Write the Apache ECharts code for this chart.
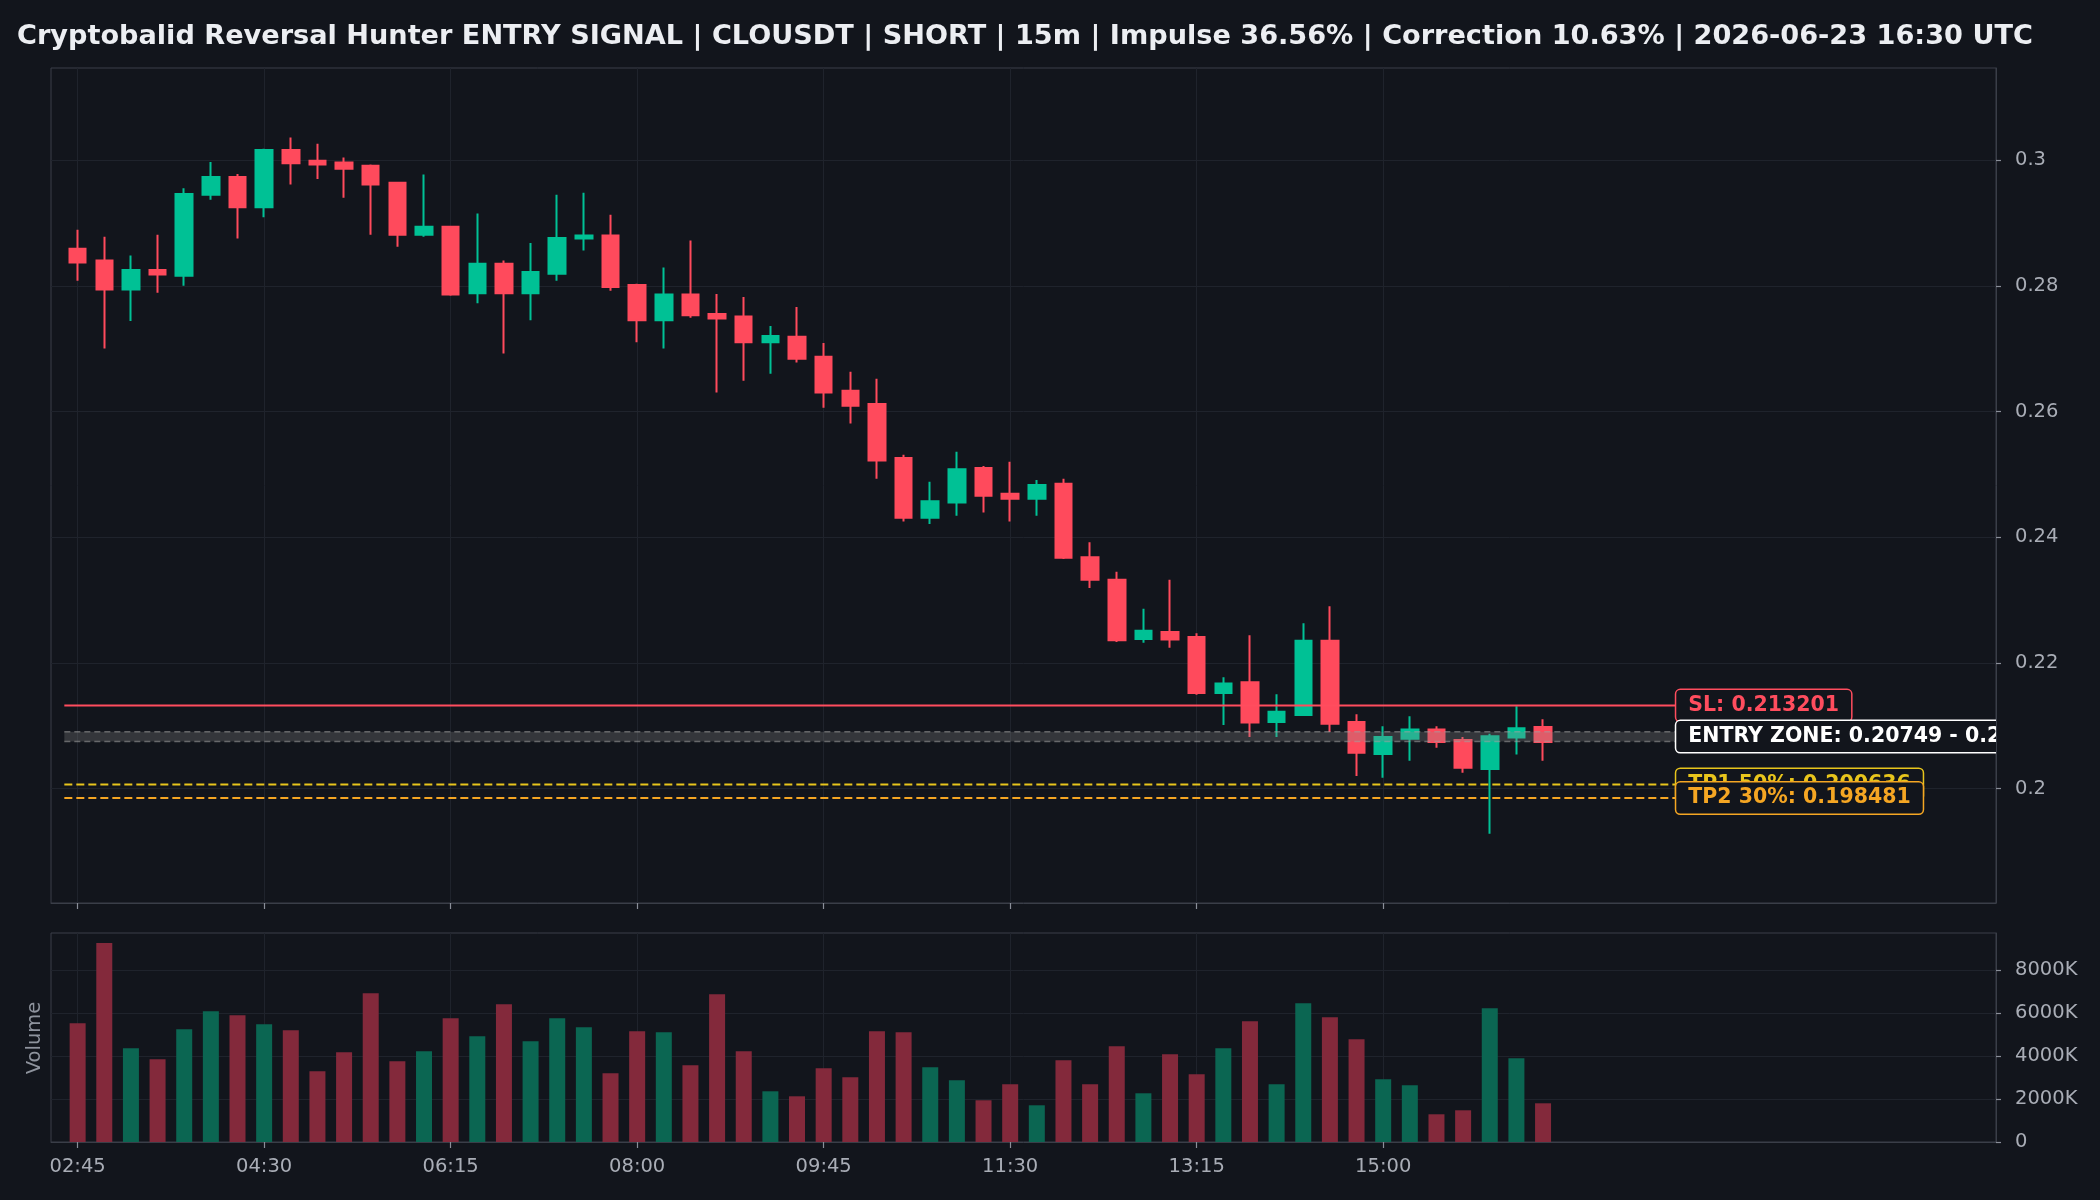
<!DOCTYPE html>
<html><head><meta charset="utf-8">
<script src="https://cdn.jsdelivr.net/npm/echarts@6/dist/echarts.min.js"></script>
<style>html,body{margin:0;padding:0;background:#12151c;}#c{width:2100px;height:1200px;}</style>
</head><body><div id="c"></div>
<script>
const times = ['02:45','03:00','03:15','03:30','03:45','04:00','04:15','04:30','04:45','05:00','05:15','05:30','05:45','06:00','06:15','06:30','06:45','07:00','07:15','07:30','07:45','08:00','08:15','08:30','08:45','09:00','09:15','09:30','09:45','10:00','10:15','10:30','10:45','11:00','11:15','11:30','11:45','12:00','12:15','12:30','12:45','13:00','13:15','13:30','13:45','14:00','14:15','14:30','14:45','15:00','15:15','15:30','15:45','16:00','16:15','16:30'];
const open  = [0.2859,0.2840,0.2794,0.2825,0.2816,0.2945,0.2973,0.2925,0.3016,0.2999,0.2996,0.2991,0.2964,0.2881,0.2894,0.2788,0.2835,0.2788,0.2819,0.2875,0.2880,0.2801,0.2745,0.2786,0.2755,0.2751,0.2710,0.2719,0.2687,0.2633,0.2612,0.2526,0.2431,0.2455,0.2510,0.2469,0.2461,0.2485,0.2368,0.2332,0.2238,0.2249,0.2241,0.2152,0.2169,0.2106,0.2117,0.2235,0.2106,0.2055,0.2079,0.2094,0.2077,0.2031,0.2081,0.2098];
const close = [0.2837,0.2794,0.2825,0.2818,0.2946,0.2973,0.2925,0.3016,0.2995,0.2993,0.2986,0.2961,0.2881,0.2894,0.2786,0.2835,0.2788,0.2822,0.2876,0.2880,0.2798,0.2745,0.2786,0.2753,0.2748,0.2710,0.2720,0.2684,0.2630,0.2609,0.2522,0.2431,0.2457,0.2508,0.2466,0.2461,0.2483,0.2367,0.2332,0.2236,0.2251,0.2237,0.2152,0.2167,0.2105,0.2122,0.2235,0.2103,0.2057,0.2082,0.2094,0.2074,0.2033,0.2083,0.2096,0.2074];
const high  = [0.2889,0.2878,0.2848,0.2881,0.2955,0.2997,0.2978,0.3018,0.3036,0.3026,0.3004,0.2993,0.2965,0.2977,0.2895,0.2915,0.2840,0.2868,0.2945,0.2948,0.2913,0.2803,0.2829,0.2872,0.2787,0.2782,0.2736,0.2766,0.2709,0.2663,0.2652,0.2531,0.2488,0.2536,0.2513,0.2520,0.2491,0.2493,0.2392,0.2345,0.2286,0.2332,0.2247,0.2177,0.2244,0.2150,0.2263,0.2290,0.2118,0.2099,0.2115,0.2099,0.2082,0.2087,0.2131,0.2110];
const low   = [0.2808,0.2700,0.2744,0.2789,0.2800,0.2937,0.2875,0.2909,0.2961,0.2970,0.2940,0.2881,0.2862,0.2878,0.2784,0.2772,0.2692,0.2745,0.2808,0.2856,0.2792,0.2710,0.2700,0.2749,0.2630,0.2649,0.2660,0.2678,0.2606,0.2581,0.2493,0.2425,0.2421,0.2434,0.2439,0.2425,0.2434,0.2365,0.2319,0.2233,0.2232,0.2224,0.2149,0.2101,0.2082,0.2082,0.2116,0.2090,0.2020,0.2017,0.2044,0.2065,0.2025,0.1928,0.2054,0.2044];
const volume = [5530000,9272000,4365000,3853000,5251000,6089000,5903000,5484000,5204000,3294000,4179000,6928000,3760000,4226000,5763000,4925000,6415000,4692000,5763000,5344000,3201000,5157000,5111000,3573000,6881000,4226000,2362000,2129000,3434000,3014000,5157000,5111000,3480000,2875000,1943000,2688000,1710000,3806000,2688000,4459000,2269000,4086000,3154000,4365000,5623000,2688000,6462000,5810000,4785000,2921000,2642000,1291000,1477000,6229000,3900000,1803000];
const xTickIdx = [0,7,14,21,28,35,42,49];
const priceTicks = [0.2,0.22,0.24,0.26,0.28,0.3];
const volTicks = [0,2000000,4000000,6000000,8000000];
const priceMin = 0.18178, priceMax = 0.31465;
const xMin = -1, xMax = 72;
const slPrice = 0.213201, entryLow = 0.20749, entryHigh = 0.20905, tp1Price = 0.200636, tp2Price = 0.198481;
const levelLabels = ['SL: 0.213201','ENTRY ZONE: 0.20749 - 0.20905','TP1 50%: 0.200636','TP2 30%: 0.198481'];
const levelKinds = ['solid','zone','dash','dash'];
const levelColors = ['#ff4d5e','#ffffff','#e8c51c','#f5a623'];
const levelStart = -0.5, labelAt = 60.0;

const UP = '#00c195', DOWN = '#ff4a5c', VUP = '#0b6652', VDOWN = '#83293b';
const BG = '#12151c', FRAME = '#3a3e48', GRIDC = '#1f232c', TXT = '#a9adb6';
const FONT = '"DejaVu Sans", sans-serif';

const candleData = times.map((t,i)=>[i, open[i], close[i], low[i], high[i]]);
const volData = times.map((t,i)=>({value:[i, volume[i]], itemStyle:{color: close[i] >= open[i] ? VUP : VDOWN}}));
const levelData = [
  [levelStart, slPrice, labelAt, slPrice],
  [levelStart, entryLow, labelAt, entryHigh],
  [levelStart, tp1Price, labelAt, tp1Price],
  [levelStart, tp2Price, labelAt, tp2Price]
];
const volMax = Math.max(...volume) * 1.05;

const chart = echarts.init(document.getElementById('c'), null, {renderer:'canvas', width:2100, height:1200});
const xBase = (gi, showLabel) => ({
  type:'value', gridIndex:gi, min:xMin, max:xMax,
  axisLine:{show:true, onZero:false, lineStyle:{color:FRAME}},
  axisTick:{show:true, customValues:xTickIdx, length:6, lineStyle:{color:'#8a8f99', width:1.2}},
  axisLabel:{show:showLabel, customValues:xTickIdx, formatter:v=>times[v], color:TXT, fontSize:19.5, fontFamily:FONT, margin:15},
  splitLine:{show:true, lineStyle:{color:GRIDC, width:1}}
});
chart.setOption({
  animation:false,
  backgroundColor:BG,
  title:{text:'Cryptobalid Reversal Hunter ENTRY SIGNAL | CLOUSDT | SHORT | 15m | Impulse 36.56% | Correction 10.63% | 2026-06-23 16:30 UTC',
    left:17, top:23, padding:0, textStyle:{color:'#eceef2', fontSize:27.15, fontWeight:'bold', fontFamily:FONT}},
  grid:[
    {left:51, top:68, width:1945, height:835, show:true, borderColor:FRAME, borderWidth:1, backgroundColor:'transparent'},
    {left:51, top:933, width:1945, height:209, show:true, borderColor:FRAME, borderWidth:1, backgroundColor:'transparent'}
  ],
  xAxis:[xBase(0,false), xBase(1,true)],
  yAxis:[
    {type:'value', gridIndex:0, position:'right', min:priceMin, max:priceMax,
     axisLine:{show:true, onZero:false, lineStyle:{color:FRAME}},
     axisTick:{show:true, customValues:priceTicks, length:5, lineStyle:{color:'#8a8f99', width:1.2}},
     axisLabel:{customValues:priceTicks, color:TXT, fontSize:19.5, fontFamily:FONT, margin:19},
     splitLine:{show:true, lineStyle:{color:GRIDC}}},
    {type:'value', gridIndex:1, position:'right', min:0, max:volMax,
     axisLine:{show:true, onZero:false, lineStyle:{color:FRAME}},
     axisTick:{show:true, customValues:volTicks, length:5, lineStyle:{color:'#8a8f99', width:1.2}},
     axisLabel:{customValues:volTicks, color:TXT, fontSize:19.5, fontFamily:FONT, margin:19,
       formatter:v=> v === 0 ? '0' : Math.round(v/1000) + 'K'},
     splitLine:{show:true, lineStyle:{color:GRIDC}}}
  ],
  graphic:[{type:'text', x:35, y:1038, rotation:Math.PI/2,
    style:{text:'Volume', fill:'#8e939d', font:'19.5px ' + FONT, align:'center', verticalAlign:'middle'}}],
  series:[
    {type:'candlestick', xAxisIndex:0, yAxisIndex:0, data:candleData, encode:{x:0, y:[1,2,3,4]},
     barWidth:17,
     itemStyle:{color:UP, color0:DOWN, borderColor:UP, borderColor0:DOWN, borderWidth:2}},
    {type:'bar', xAxisIndex:1, yAxisIndex:1, data:volData, barWidth:16},
    {type:'custom', xAxisIndex:0, yAxisIndex:0, clip:true, z:5, data:levelData, encode:{x:[0,2], y:[1,3]},
     renderItem:function(params, api){
       const k = params.dataIndex;
       const x0 = api.value(0), p = api.value(1), x1 = api.value(2), pTop = api.value(3);
       const a = api.coord([x0, p]), b = api.coord([x1, p]);
       const col = levelColors[k];
       const children = [];
       let yMid = a[1];
       if (levelKinds[k] === 'zone') {
         const t = api.coord([x0, pTop]);
         yMid = (a[1] + t[1]) / 2;
         children.push({type:'rect', shape:{x:a[0], y:t[1], width:b[0]-a[0], height:a[1]-t[1]}, style:{fill:'rgba(140,140,140,0.28)'}});
         children.push({type:'line', shape:{x1:a[0], y1:a[1], x2:b[0], y2:a[1]}, style:{stroke:'rgba(160,160,160,0.55)', lineWidth:1.5, lineDash:[6,4]}});
         children.push({type:'line', shape:{x1:a[0], y1:t[1], x2:b[0], y2:t[1]}, style:{stroke:'rgba(160,160,160,0.55)', lineWidth:1.5, lineDash:[6,4]}});
       } else {
         children.push({type:'line', shape:{x1:a[0], y1:a[1], x2:b[0], y2:b[1]},
           style:{stroke:col, lineWidth:2, lineDash: levelKinds[k] === 'dash' ? [8,4] : null}});
       }
       children.push({type:'text', x:b[0], y:yMid,
         style:{text:levelLabels[k], fill:col, font:'bold 20.5px ' + FONT, align:'left', verticalAlign:'middle',
           backgroundColor:BG, borderColor:col, borderWidth:1.5, borderRadius:4, padding:[5,12]}});
       return {type:'group', children:children};
     }}
  ]
});
</script></body></html>
